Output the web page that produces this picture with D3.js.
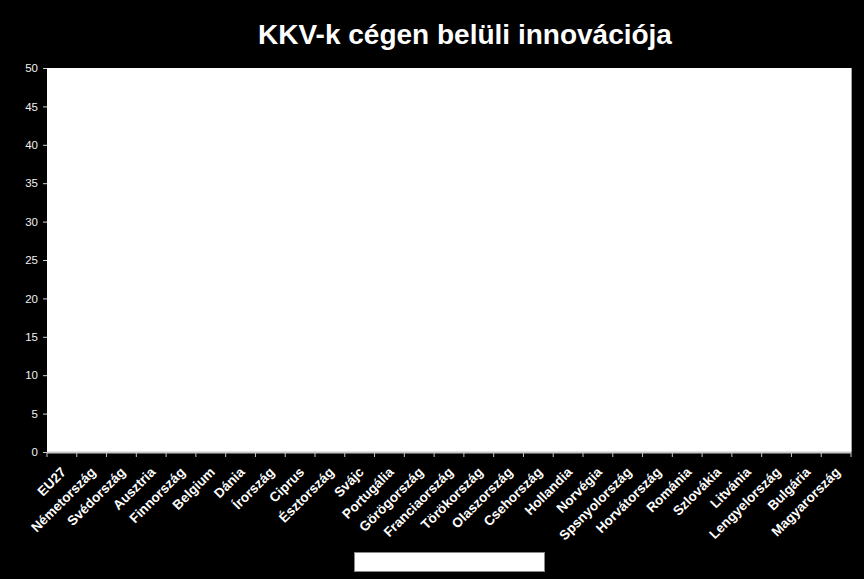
<!DOCTYPE html>
<html lang="hu">
<head>
  <meta charset="UTF-8">
  <title>KKV-k cégen belüli innovációja</title>
  <style>
    html, body { margin: 0; padding: 0; background: #000; }
    svg { display: block; font-family: "Liberation Sans", Arial, sans-serif; }
  </style>
</head>
<body>
  <div id="chart"></div>
  <script src="https://d3js.org/d3.v7.min.js"></script>
  <script>
    const width = 864
    const height = 579
    const margin = { top: 68, right: 13, bottom: 127, left: 47 }

    const title = 'KKV-k cégen belüli innovációja'

    // országok, ahogy a tengelyen szerepelnek
    const countries = [
      'EU27', 'Németország', 'Svédország', 'Ausztria', 'Finnország', 'Belgium',
      'Dánia', 'Írország', 'Ciprus', 'Észtország', 'Svájc', 'Portugália',
      'Görögország', 'Franciaország', 'Törökország', 'Olaszország', 'Csehország',
      'Hollandia', 'Norvégia', 'Spsnyolország', 'Horvátország', 'Románia',
      'Szlovákia', 'Litvánia', 'Lengyelország', 'Bulgária', 'Magyarország'
    ]

    // a képen nem látszik oszlop: minden érték 0
    const values = [
      0, 0, 0, 0, 0, 0, 0, 0, 0, 0, 0, 0, 0, 0,
      0, 0, 0, 0, 0, 0, 0, 0, 0, 0, 0, 0, 0
    ]

    const yTicks = [0, 5, 10, 15, 20, 25, 30, 35, 40, 45, 50]

    const innerW = width - margin.left - margin.right
    const innerH = height - margin.top - margin.bottom

    const svg = d3.select('#chart').append('svg')
      .attr('width', width)
      .attr('height', height)

    svg.append('rect')
      .attr('width', width)
      .attr('height', height)
      .attr('fill', '#000')

    svg.append('text')
      .attr('x', 465)
      .attr('y', 44)
      .attr('text-anchor', 'middle')
      .attr('fill', '#fff')
      .attr('font-size', 28)
      .attr('font-weight', 'bold')
      .text(title)

    const g = svg.append('g')
      .attr('transform', `translate(${margin.left},${margin.top})`)

    const x = d3.scaleBand()
      .domain(countries)
      .range([0, innerW])
      .paddingInner(0.5)
      .paddingOuter(0.25)

    const y = d3.scaleLinear()
      .domain([0, 50])
      .range([innerH, 0])

    // plot terület
    g.append('rect')
      .attr('width', innerW)
      .attr('height', innerH)
      .attr('fill', '#fff')

    g.append('line')
      .attr('x1', innerW + 0.5).attr('x2', innerW + 0.5)
      .attr('y1', 0).attr('y2', innerH)
      .attr('stroke', '#a0a0a0')

    // oszlopok
    g.selectAll('.bar')
      .data(values)
      .join('rect')
      .attr('class', 'bar')
      .attr('x', (d, i) => x(countries[i]))
      .attr('y', d => y(d))
      .attr('width', x.bandwidth())
      .attr('height', d => innerH - y(d))
      .attr('fill', '#4f6fa8')

    // y tengely
    const yAxis = g.append('g')
      .call(d3.axisLeft(y).tickValues(yTicks).tickSize(4).tickPadding(5))
    yAxis.select('.domain').remove()
    yAxis.selectAll('line').attr('stroke', '#d0d0d0')
    yAxis.selectAll('text')
      .attr('fill', '#f0f0f0')
      .attr('font-size', 11.5)
      .attr('font-family', '"Liberation Sans", Arial, sans-serif')

    // x tengely: osztásvonalak a kategóriák határán
    const step = innerW / countries.length
    const xa = g.append('g').attr('transform', `translate(0,${innerH})`)
    xa.append('line')
      .attr('x1', 0).attr('x2', innerW)
      .attr('y1', 0.5).attr('y2', 0.5)
      .attr('stroke', '#c8c8c8')
      .attr('stroke-width', 2)
    xa.selectAll('.tick')
      .data(d3.range(countries.length + 1))
      .join('line')
      .attr('x1', d => d * step).attr('x2', d => d * step)
      .attr('y1', 0).attr('y2', 5)
      .attr('stroke', '#c8c8c8')

    xa.selectAll('.lbl')
      .data(countries)
      .join('text')
      .attr('class', 'lbl')
      .attr('transform', d => `translate(${x(d) + x.bandwidth() / 2 + 5},${21}) rotate(-45)`)
      .attr('text-anchor', 'end')
      .attr('fill', '#fff')
      .attr('font-size', 13.5)
      .attr('font-weight', 'bold')
      .text(d => d)

    // üres jelmagyarázat doboz
    svg.append('rect')
      .attr('x', 354.5).attr('y', 552.5)
      .attr('width', 190).attr('height', 19)
      .attr('fill', '#fff')
      .attr('stroke', '#888')
  </script>
</body>
</html>
